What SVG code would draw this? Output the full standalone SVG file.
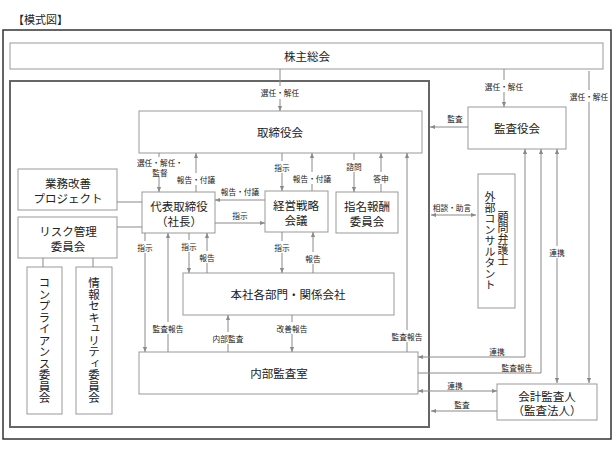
<svg xmlns="http://www.w3.org/2000/svg" width="616" height="462" viewBox="0 0 616 462">
<style>
text{font-family:"Noto Sans CJK JP","Noto Sans CJK SC",sans-serif;fill:#222;dominant-baseline:central}
.t{font-size:11.5px;text-anchor:middle}
.l{font-size:7.7px;text-anchor:middle}
.v{font-size:11.5px;writing-mode:vertical-rl;text-anchor:middle}
.vs{font-size:11px;writing-mode:vertical-rl;text-anchor:start}
.box{fill:#fff;stroke:#999;stroke-width:1}
.c{fill:none;stroke:#8a8a8a;stroke-width:1}
.a{marker-end:url(#ah)}
.b{marker-start:url(#ah);marker-end:url(#ah)}
</style>
<defs>
<marker id="ah" viewBox="0 0 6 6" refX="6" refY="3" markerWidth="5" markerHeight="5" markerUnits="userSpaceOnUse" orient="auto-start-reverse">
<path d="M0,0.5 L6,3 L0,5.5 z" fill="#8a8a8a"/>
</marker>
</defs>
<rect width="616" height="462" fill="#fff"/>
<text x="13" y="19" style="font-size:11px">【模式図】</text>
<rect x="3" y="30" width="608" height="409" fill="none" stroke="#333" stroke-width="1.5"/>
<g id="shareholders"><rect class="box" x="10" y="43" width="593" height="26"/><text class="t" x="307" y="56">株主総会</text></g>
<g id="group-frame"><rect x="10" y="81" width="419" height="346" fill="none" stroke="#666" stroke-width="2"/></g>
<g id="board"><rect class="box" x="139" y="111" width="283" height="42"/><text class="t" x="280" y="132">取締役会</text></g>
<g id="audit-board"><rect class="box" x="468" y="107" width="98" height="42"/><text class="t" x="517" y="128">監査役会</text></g>
<g id="improvement"><rect class="box" x="18" y="169" width="99" height="41"/><text class="t" x="68" y="182.5">業務改善</text><text class="t" x="68" y="197.5">プロジェクト</text></g>
<g id="risk"><rect class="box" x="18" y="217" width="99" height="41"/><text class="t" x="68" y="230.5">リスク管理</text><text class="t" x="68" y="245.5">委員会</text></g>
<g id="president"><rect class="box" x="142" y="192" width="73" height="41"/><text class="t" x="179" y="205.5">代表取締役</text><text class="t" x="179" y="220.5">（社長）</text></g>
<g id="strategy"><rect class="box" x="265" y="191" width="63" height="41"/><text class="t" x="296" y="205">経営戦略</text><text class="t" x="296" y="220">会議</text></g>
<g id="nomination"><rect class="box" x="336" y="192" width="62" height="41"/><text class="t" x="367" y="205.5">指名報酬</text><text class="t" x="367" y="220.5">委員会</text></g>
<g id="advisors"><rect class="box" x="478" y="174" width="37" height="134"/><text class="vs" x="490" y="191.5">外部コンサルタント</text><text class="vs" x="503" y="211.5">顧問弁護士</text></g>
<g id="compliance"><rect class="box" x="27" y="267" width="35" height="147"/><text class="v" x="44.5" y="340.5">コンプライアンス委員会</text></g>
<g id="security"><rect class="box" x="76" y="267" width="36" height="147"/><text class="v" x="94" y="340.5">情報セキュリティ委員会</text></g>
<g id="departments"><rect class="box" x="183" y="273" width="211" height="42"/><text class="t" x="288" y="294">本社各部門・関係会社</text></g>
<g id="internal-audit"><rect class="box" x="139" y="352" width="279" height="42"/><text class="t" x="279" y="373">内部監査室</text></g>
<g id="accounting-auditor"><rect class="box" x="497" y="384" width="100" height="36"/><text class="t" x="547" y="395.5">会計監査人</text><text class="t" x="547" y="410">（監査法人）</text></g>
<g id="connectors">
<path class="c" d="M280,69 V86"/><path class="c a" d="M280,99 V111"/><text class="l" x="280" y="92">選任・解任</text>
<path class="c" d="M504,69 V80"/><path class="c a" d="M504,92 V107"/><text class="l" x="504" y="86">選任・解任</text>
<path class="c" d="M589,71 V90"/><path class="c a" d="M589,102 V383"/><text class="l" x="589" y="96">選任・解任</text>
<path class="c a" d="M468,127 H430"/><text class="l" x="455" y="118">監査</text>
<path class="c" d="M159,153 V157"/><path class="c a" d="M159,177 V192"/><text class="l" x="160" y="162.5">選任・解任・</text><text class="l" x="160" y="172">監督</text>
<path class="c" d="M196,192 V185"/><path class="c a" d="M196,173 V153"/><text class="l" x="196" y="179">報告・付議</text>
<path class="c" d="M282,153 V161"/><path class="c a" d="M282,173 V191"/><text class="l" x="282" y="167">指示</text>
<path class="c" d="M312,191 V184"/><path class="c a" d="M312,172 V153"/><text class="l" x="312" y="178">報告・付議</text>
<path class="c" d="M354,153 V160"/><path class="c a" d="M354,172 V192"/><text class="l" x="354" y="166">諮問</text>
<path class="c" d="M381,192 V184"/><path class="c a" d="M381,172 V153"/><text class="l" x="381" y="178">答申</text>
<path class="c a" d="M265,200 H215"/><text class="l" x="240" y="191">報告・付議</text>
<path class="c a" d="M215,223 H265"/><text class="l" x="240" y="215">指示</text>
<path class="c" d="M117,202 H142 M117,227 H142 M43,258 V267 M93,258 V267"/>
<path class="c" d="M145,233 V241"/><path class="c a" d="M145,253 V352"/><text class="l" x="145" y="247">指示</text>
<path class="c" d="M168,352 V334"/><path class="c a" d="M168,322 V233"/><text class="l" x="168" y="328">監査報告</text>
<path class="c" d="M189,233 V240"/><path class="c a" d="M189,252 V273"/><text class="l" x="189" y="246">指示</text>
<path class="c" d="M207,273 V263"/><path class="c a" d="M207,251 V233"/><text class="l" x="207" y="257">報告</text>
<path class="c" d="M282,232 V241"/><path class="c a" d="M282,253 V273"/><text class="l" x="282" y="247">指示</text>
<path class="c" d="M313,273 V264"/><path class="c a" d="M313,252 V232"/><text class="l" x="313" y="258">報告</text>
<path class="c" d="M228,352 V344"/><path class="c a" d="M228,332 V315"/><text class="l" x="228" y="338">内部監査</text>
<path class="c" d="M292,315 V322"/><path class="c a" d="M292,334 V352"/><text class="l" x="292" y="328">改善報告</text>
<path class="c" d="M407,352 V342"/><path class="c a" d="M407,330 V153"/><text class="l" x="407" y="336">監査報告</text>
<path class="c b" d="M525,149 V357 H418"/><text class="l" x="497" y="351">連携</text>
<path class="c a" d="M418,373 H541 V149"/><text class="l" x="517" y="367">監査報告</text>
<path class="c" d="M557,149 V246" style="marker-start:url(#ah)"/><path class="c a" d="M557,258 V383"/><text class="l" x="557" y="252">連携</text>
<path class="c b" d="M418,391 H497"/><text class="l" x="455" y="385">連携</text>
<path class="c a" d="M497,411 H431"/><text class="l" x="462" y="404">監査</text>
<path class="c b" d="M431,215 H476"/><text class="l" x="452" y="207">相談・助言</text>
</g>
</svg>
